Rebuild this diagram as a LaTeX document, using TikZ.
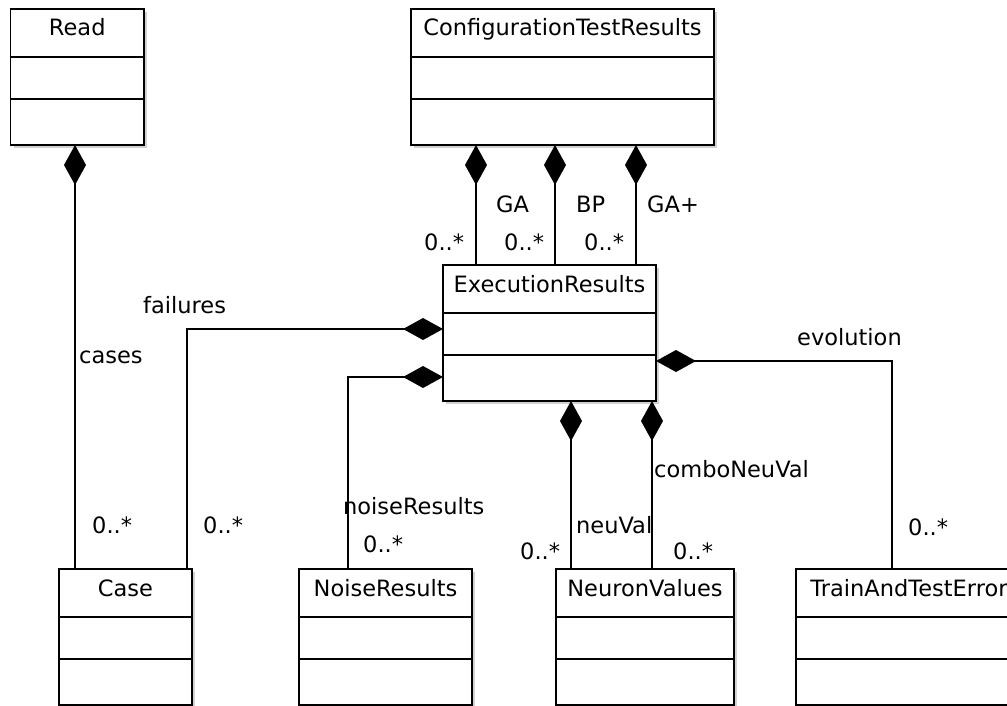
\documentclass[tikz,border=0pt]{standalone}
\usepackage{fontspec}
\setmainfont{DejaVu Sans}
\usetikzlibrary{arrows.meta,calc}

\tikzset{
  classbox/.style={draw, line width=1.8pt, fill=white, inner sep=0pt, outer sep=0pt,
                   minimum height=136pt, anchor=north west},
  rowline/.style={line width=1.8pt},
  shadowfill/.style={fill=black!18},
  titletext/.style={font=\fontsize{22.5}{27}\selectfont, inner sep=0pt, anchor=base},
  lbl/.style={font=\fontsize{22.5}{27}\selectfont, inner sep=0pt, anchor=base west},
  comp/.style={draw, line width=1.8pt, {Diamond[length=40pt,width=22pt]}-},
}

% class box: name, left, top, right, title
\newcommand{\umlclass}[5]{%
  \pgfmathsetmacro{\boxw}{#4-#2}%
  \fill[shadowfill] (#2+3,#3+3) rectangle (#4+3,#3+139);
  \node[classbox, minimum width=\boxw pt] (#1) at (#2,#3) {};
  \node[titletext] (#1-title) at ($(#1.north)+(0,27)$) {#5};
  \draw[rowline] ([yshift=-48pt]#1.north west) -- ([yshift=-48pt]#1.north east);
  \draw[rowline] ([yshift=-90pt]#1.north west) -- ([yshift=-90pt]#1.north east);
}

\begin{document}
\begin{tikzpicture}[x=1pt, y=-1pt]
\useasboundingbox (0,0) rectangle (1007,706);

% classes
\umlclass{read}{10.5}{9}{144}{Read}
\umlclass{ctr}{411}{9}{714}{ConfigurationTestResults}
\umlclass{exec}{443}{265}{656}{ExecutionResults}
\umlclass{case}{59}{569}{192}{Case}
\umlclass{noise}{299}{569}{472}{NoiseResults}
\umlclass{nv}{556}{569}{734}{NeuronValues}
\umlclass{tte}{796}{569}{1022}{TrainAndTestError}

% connector end points on the owning classes
\coordinate (rc) at ([xshift=-2.25pt]read.south);
\coordinate (ga) at ([xshift=-86.5pt]ctr.south);
\coordinate (bp) at ([xshift=-7.5pt]ctr.south);
\coordinate (gap) at ([xshift=73.5pt]ctr.south);
\coordinate (nvA) at ([xshift=21.5pt]exec.south);
\coordinate (nvB) at ([xshift=102.5pt]exec.south);
\coordinate (fail) at ([yshift=4pt]exec.west);
\coordinate (nres) at ([yshift=-44pt]exec.west);
\coordinate (evo) at ([yshift=-28pt]exec.east);

% labels
\node[lbl] (l-cases) at (79,363) {cases};
\node[lbl] (l-case1) at (92,533) {0..*};
\node[lbl] (l-failures) at (143,313) {failures};
\node[lbl] (l-case2) at (203,533) {0..*};
\node[lbl] (l-noise) at (343,514) {noiseResults};
\node[lbl] (l-noise2) at (363,552) {0..*};
\node[lbl] (l-ga) at (496,212) {GA};
\node[lbl] (l-bp) at (576,212) {BP};
\node[lbl] (l-gap) at (647,212) {GA+};
\node[lbl] (l-m1) at (424,250) {0..*};
\node[lbl] (l-m2) at (504,250) {0..*};
\node[lbl] (l-m3) at (584,250) {0..*};
\node[lbl] (l-neuval) at (576,533) {neuVal};
\node[lbl] (l-combo) at (654,477) {comboNeuVal};
\node[lbl] (l-nv1) at (520,559) {0..*};
\node[lbl] (l-nv2) at (673,559) {0..*};
\node[lbl] (l-evo) at (797,345) {evolution};
\node[lbl] (l-tte) at (908,535) {0..*};

% composition connectors
\draw[comp] (rc) -- (rc |- case.north);
\draw[comp] (ga) -- (ga |- exec.north);
\draw[comp] (bp) -- (bp |- exec.north);
\draw[comp] (gap) -- (gap |- exec.north);
\draw[comp] (fail) -| ([xshift=61.5pt]case.north);
\draw[comp] (nres) -| ([xshift=-37.5pt]noise.north);
\draw[comp] (evo) -| ([xshift=-17pt]tte.north);
\draw[comp] (nvA) -- (nvA |- nv.north);
\draw[comp] (nvB) -- (nvB |- nv.north);
\end{tikzpicture}
\end{document}
